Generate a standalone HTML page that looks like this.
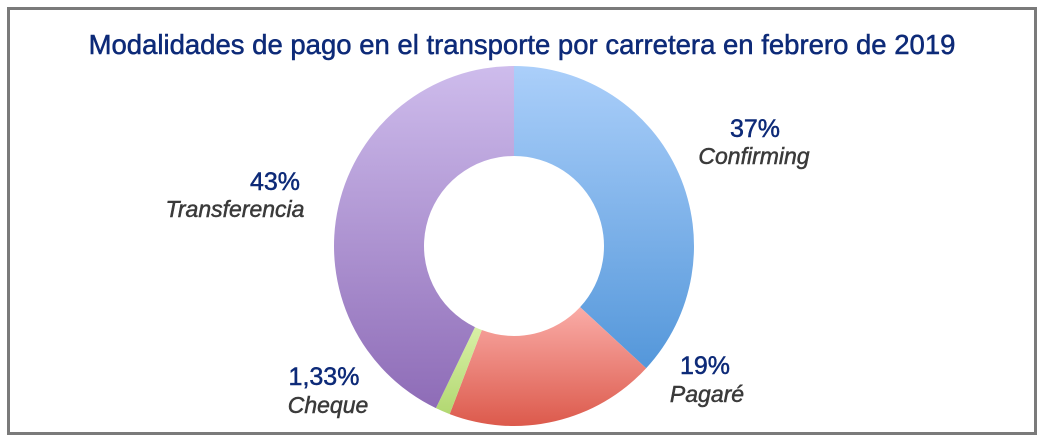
<!DOCTYPE html>
<html><head><meta charset="utf-8"><style>
html,body{margin:0;padding:0;background:#fff;}
body{width:1048px;height:443px;position:relative;overflow:hidden;font-family:"Liberation Sans",sans-serif;}
.box{position:absolute;left:7px;top:7px;width:1024px;height:422px;border:3px solid #7a7a7a;}
</style></head><body>
<div class="box"></div>
<svg width="1048" height="443" style="position:absolute;left:0;top:0">
<defs>
<linearGradient id="gb" x1="0" y1="0" x2="0" y2="1"><stop offset="0" stop-color="#abcffa"/><stop offset="1" stop-color="#5497da"/></linearGradient>
<linearGradient id="gr" x1="0" y1="0" x2="0" y2="1"><stop offset="0" stop-color="#faaca7"/><stop offset="1" stop-color="#dc5a4c"/></linearGradient>
<linearGradient id="gp" x1="0" y1="0" x2="0" y2="1"><stop offset="0" stop-color="#cebcec"/><stop offset="1" stop-color="#8e6cb7"/></linearGradient>
<linearGradient id="gg" x1="0" y1="0" x2="0" y2="1"><stop offset="0" stop-color="#d9f0a6"/><stop offset="1" stop-color="#b2d872"/></linearGradient>
</defs>
<g id="d"></g>
<g stroke-width="0.5">
<text x="522" y="54" text-anchor="middle" font-size="27.5" fill="#0d2a78" stroke="#0d2a78">Modalidades de pago en el transporte por carretera en febrero de 2019</text>
<text x="755" y="137" text-anchor="middle" font-size="25" fill="#0d2a78" stroke="#0d2a78">37%</text>
<text x="754" y="164" text-anchor="middle" font-size="23" font-style="italic" fill="#3a3a3a" stroke="#3a3a3a">Confirming</text>
<text x="705" y="374" text-anchor="middle" font-size="25" fill="#0d2a78" stroke="#0d2a78">19%</text>
<text x="707" y="402" text-anchor="middle" font-size="23" font-style="italic" fill="#3a3a3a" stroke="#3a3a3a">Pagaré</text>
<text x="275" y="190" text-anchor="middle" font-size="25" fill="#0d2a78" stroke="#0d2a78">43%</text>
<text x="235" y="217" text-anchor="middle" font-size="23" font-style="italic" fill="#3a3a3a" stroke="#3a3a3a">Transferencia</text>
<text x="324" y="385" text-anchor="middle" font-size="25" fill="#0d2a78" stroke="#0d2a78">1,33%</text>
<text x="328" y="413" text-anchor="middle" font-size="23" font-style="italic" fill="#3a3a3a" stroke="#3a3a3a">Cheque</text>
</g>
</svg>
<script>
(function(){
var cx=514,cy=246,R=180,r=90;
var s=[[37,"url(#gb)"],[19,"url(#gr)"],[1.33,"url(#gg)"],[43,"url(#gp)"]];
var tot=100.33,a=0,g=document.getElementById('d'),h='';
function p(rad,ang){return [cx+rad*Math.sin(ang),cy-rad*Math.cos(ang)];}
s.forEach(function(v){
 var a0=a/tot*2*Math.PI;a+=v[0];var a1=a/tot*2*Math.PI;
 var L=(a1-a0)>Math.PI?1:0;
 var p1=p(R,a0),p2=p(R,a1),p3=p(r,a1),p4=p(r,a0);
 h+='<path fill="'+v[1]+'" d="M'+p1+' A'+R+','+R+' 0 '+L+' 1 '+p2+' L'+p3+' A'+r+','+r+' 0 '+L+' 0 '+p4+' Z"/>';
});
g.innerHTML=h;
})();
</script>
</body></html>
